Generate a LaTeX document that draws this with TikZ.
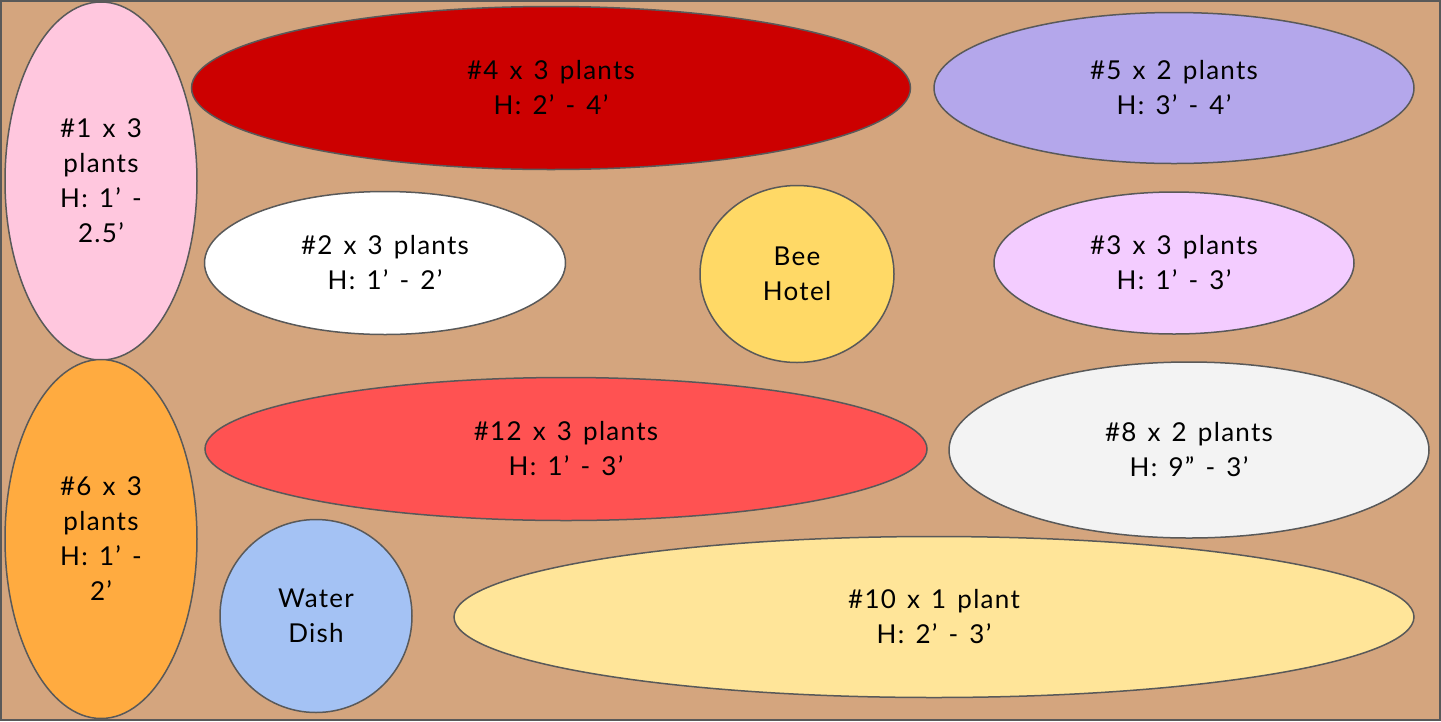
\documentclass[tikz,border=0pt]{standalone}
\usepackage{fontspec}
\setmainfont{Lato}[LetterSpace=5,WordSpace=1.4]
\usetikzlibrary{shapes.geometric}
\definecolor{soil}{HTML}{D4A57E}
\definecolor{rim}{HTML}{595959}
\definecolor{pinkbed}{HTML}{FFC7DE}
\definecolor{redbed}{HTML}{CC0000}
\definecolor{violetbed}{HTML}{B4A7EB}
\definecolor{lilacbed}{HTML}{F3CCFF}
\definecolor{orangebed}{HTML}{FFAB40}
\definecolor{coralbed}{HTML}{FF5252}
\definecolor{greybed}{HTML}{F3F3F3}
\definecolor{bluebed}{HTML}{A4C2F4}
\definecolor{creambed}{HTML}{FFE599}
\definecolor{honeybed}{HTML}{FFD966}

\begin{document}
\begin{tikzpicture}[x=1pt,y=-1pt,
			bed/.style={ellipse,draw=rim,line width=1.5pt,inner sep=0pt,
				align=center,font=\fontsize{26}{35}\selectfont},
			plot/.style={fill=soil,draw=rim,line width=2pt}]
			\useasboundingbox (0,0) rectangle (1441,721);
			\draw[plot] (1,1) rectangle (1440,720);
			
			\node[bed, fill=pinkbed, minimum width=192pt, minimum height=358pt] (p1) at (101,181) {\#1 x 3\\plants\\H: 1’ -\\2.5’};
			\node[bed, fill=redbed, minimum width=719pt, minimum height=163pt] (p4) at (551,88) {\#4 x 3 plants\\H: 2’ - 4’};
			\node[bed, fill=violetbed, minimum width=480pt, minimum height=151pt] (p5) at (1174,88) {\#5 x 2 plants\\H: 3’ - 4’};
			\node[bed, fill=white, minimum width=361pt, minimum height=143pt] (p2) at (385,263) {\#2 x 3 plants\\H: 1’ - 2’};
			\node[bed, fill=honeybed, minimum width=194pt, minimum height=177pt] (bee) at (797,274) {Bee\\Hotel};
			\node[bed, fill=lilacbed, minimum width=360pt, minimum height=142pt] (p3) at (1174,263) {\#3 x 3 plants\\H: 1’ - 3’};
			\node[bed, fill=orangebed, minimum width=192pt, minimum height=359pt] (p6) at (101,539) {\#6 x 3\\plants\\H: 1’ -\\2’};
			\node[bed, fill=coralbed, minimum width=722pt, minimum height=143pt] (p12) at (566,449) {\#12 x 3 plants\\H: 1’ - 3’};
			\node[bed, fill=greybed, minimum width=480pt, minimum height=176pt] (p8) at (1189,450) {\#8 x 2 plants\\H: 9” - 3’};
			\node[bed, fill=bluebed, minimum width=192pt, minimum height=193pt] (dish) at (316,616) {Water\\Dish};
			\node[bed, fill=creambed, minimum width=960pt, minimum height=161pt] (p10) at (934,617) {\#10 x 1 plant\\H: 2’ - 3’};
			\end{tikzpicture}
\end{document}
